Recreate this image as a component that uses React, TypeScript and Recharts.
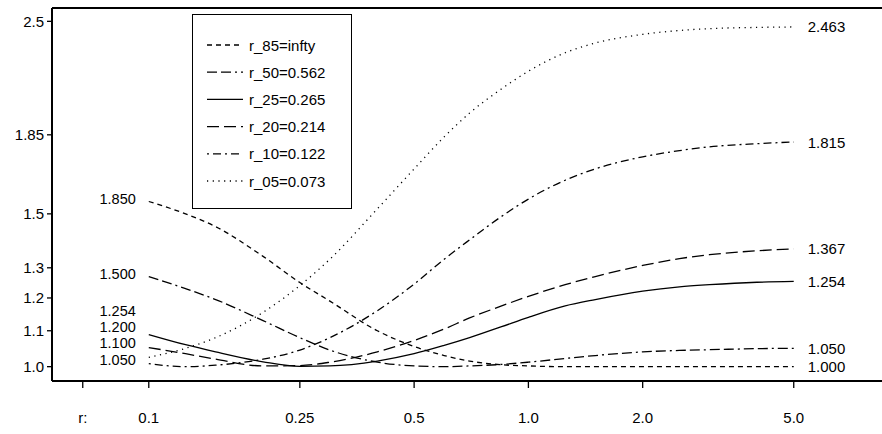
import React from 'react';
import { LineChart, Line, XAxis, YAxis, ReferenceLine, ReferenceDot, Legend } from 'recharts';

const rValues = [0.1, 0.125, 0.15, 0.2, 0.25, 0.3, 0.4, 0.5, 0.6, 0.7, 0.85, 1.0, 1.25, 1.5, 2.0, 2.5, 3.0, 4.0, 5.0];

const r85Values = [1.55, 1.5, 1.45, 1.34, 1.25, 1.19, 1.1, 1.055, 1.03, 1.015, 1.005, 1.002, 1.0, 1.0, 1.0, 1.0, 1.0, 1.0, 1.0];
const r50Values = [1.27, 1.23, 1.195, 1.13, 1.08, 1.045, 1.012, 1.002, 1.0, 1.002, 1.006, 1.012, 1.022, 1.03, 1.04, 1.044, 1.046, 1.049, 1.05];
const r25Values = [1.089, 1.06, 1.04, 1.013, 1.001, 1.002, 1.015, 1.035, 1.058, 1.08, 1.112, 1.14, 1.175, 1.195, 1.222, 1.236, 1.243, 1.251, 1.254];
const r20Values = [1.052, 1.035, 1.02, 1.002, 1.003, 1.012, 1.04, 1.072, 1.105, 1.138, 1.175, 1.205, 1.243, 1.27, 1.308, 1.332, 1.346, 1.36, 1.367];
const r10Values = [1.008, 1.0, 1.004, 1.02, 1.045, 1.08, 1.16, 1.245, 1.33, 1.4, 1.49, 1.56, 1.64, 1.69, 1.745, 1.774, 1.792, 1.807, 1.815];
const r05Values = [1.025, 1.05, 1.08, 1.155, 1.24, 1.33, 1.52, 1.69, 1.84, 1.96, 2.09, 2.19, 2.3, 2.36, 2.415, 2.44, 2.452, 2.46, 2.463];

const seriesKeys = ['r85', 'r50', 'r25', 'r20', 'r10', 'r05'];
const seriesNames = ['r_85=infty', 'r_50=0.562', 'r_25=0.265', 'r_20=0.214', 'r_10=0.122', 'r_05=0.073'];
const seriesDash = ['5 4', '10 4 10 4 2 4', '', '12 5', '2 4 8 4', '1.2 4.5'];
const seriesValues = [r85Values, r50Values, r25Values, r20Values, r10Values, r05Values];

const xTicks = [0.067, 0.1, 0.25, 0.5, 1, 2, 5];
const xTickLabels = ['r:', '0.1', '0.25', '0.5', '1.0', '2.0', '5.0'];
const yTicks = [1.0, 1.1, 1.2, 1.3, 1.5, 1.85, 2.5];
const yTickLabels = ['1.0', '1.1', '1.2', '1.3', '1.5', '1.85', '2.5'];

const leftLabels = ['1.850', '1.500', '1.254', '1.200', '1.100', '1.050'];
const leftLabelAt = [1.559, 1.28, 1.1600, 1.1123, 1.0659, 1.0188];
const rightLabels = ['2.463', '1.815', '1.367', '1.254', '1.050', '1.000'];
const rightLabelAt = [2.463, 1.815, 1.367, 1.254, 1.05, 1.0];

const xDomain = [0.0556, 8.54];
const yDomain = [0.9627, 2.59];

const FONT = '"Liberation Sans", Arial, Helvetica, sans-serif';

const data = rValues.map((r, i) => {
  const row: Record<string, number> = { r };
  seriesKeys.forEach((k, j) => {
    row[k] = seriesValues[j][i];
  });
  return row;
});

const labelFor = (ticks: number[], labels: string[]) => (v: number) => {
  let best = 0;
  ticks.forEach((t, i) => {
    if (Math.abs(Math.log(t) - Math.log(v)) < Math.abs(Math.log(ticks[best]) - Math.log(v))) best = i;
  });
  return labels[best];
};

const LegendBox = () => (
  <div
    style={{
      width: 160,
      height: 195,
      border: '1.5px solid #000',
      background: '#fff',
      boxSizing: 'border-box',
    }}
  >
    <svg width={157} height={192} style={{ display: 'block' }}>
      {seriesNames.map((name, i) => {
        const y = 30 + i * 27.2;
        return (
          <g key={name}>
            <line x1={14} x2={50} y1={y} y2={y} stroke="#000" strokeWidth={1.3} strokeDasharray={seriesDash[i] || undefined} />
            <text x={56} y={y} dominantBaseline="central" fontSize={15} fontFamily={FONT} fill="#000">
              {name}
            </text>
          </g>
        );
      })}
    </svg>
  </div>
);

export default function App() {
  return (
    <div style={{ position: 'absolute', left: 0, top: 0, background: '#fff' }}>
      <LineChart width={882} height={434} data={data} margin={{ top: 8, right: 0, bottom: 0, left: 0 }}>
        <XAxis
          dataKey="r"
          type="number"
          scale="log"
          domain={xDomain}
          allowDataOverflow
          ticks={xTicks}
          tickFormatter={labelFor(xTicks, xTickLabels)}
          height={53}
          tickSize={7}
          tickMargin={24}
          axisLine={{ stroke: '#000', strokeWidth: 2 }}
          tickLine={{ stroke: '#000', strokeWidth: 1.3 }}
          tick={{ fill: '#000', fontSize: 15, fontFamily: FONT }}
          interval={0}
        />
        <YAxis
          type="number"
          scale="log"
          domain={yDomain}
          allowDataOverflow
          ticks={yTicks}
          tickFormatter={labelFor(yTicks, yTickLabels)}
          width={52}
          tickSize={5}
          tickMargin={3}
          axisLine={{ stroke: '#000', strokeWidth: 2 }}
          tickLine={{ stroke: '#000', strokeWidth: 1.3 }}
          tick={{ fill: '#000', fontSize: 15, fontFamily: FONT }}
          interval={0}
        />
        <ReferenceLine y={yDomain[1]} stroke="#000" strokeWidth={2} ifOverflow="visible" />
        {seriesKeys.map((k, i) => (
          <Line
            key={k}
            dataKey={k}
            name={seriesNames[i]}
            type="monotone"
            stroke="#000"
            strokeWidth={1.3}
            strokeDasharray={seriesDash[i] || undefined}
            dot={false}
            activeDot={false}
            isAnimationActive={false}
          />
        ))}
        {leftLabels.map((t, i) => (
          <ReferenceDot
            key={'l' + i}
            x={rValues[0]}
            y={leftLabelAt[i]}
            r={0}
            ifOverflow="visible"
            shape={(p: any) => (
              <text x={p.cx - 13} y={p.cy} textAnchor="end" dominantBaseline="central" fontSize={14.5} fontFamily={FONT} fill="#000">
                {t}
              </text>
            )}
          />
        ))}
        {rightLabels.map((t, i) => (
          <ReferenceDot
            key={'r' + i}
            x={rValues[rValues.length - 1]}
            y={rightLabelAt[i]}
            r={0}
            ifOverflow="visible"
            shape={(p: any) => (
              <text x={p.cx + 14} y={p.cy} textAnchor="start" dominantBaseline="central" fontSize={15} fontFamily={FONT} fill="#000">
                {t}
              </text>
            )}
          />
        ))}
        <Legend
          layout="vertical"
          align="center"
          verticalAlign="middle"
          wrapperStyle={{ position: 'absolute', left: 192, top: 14, width: 160, height: 195 }}
          content={() => <LegendBox />}
        />
      </LineChart>
    </div>
  );
}
